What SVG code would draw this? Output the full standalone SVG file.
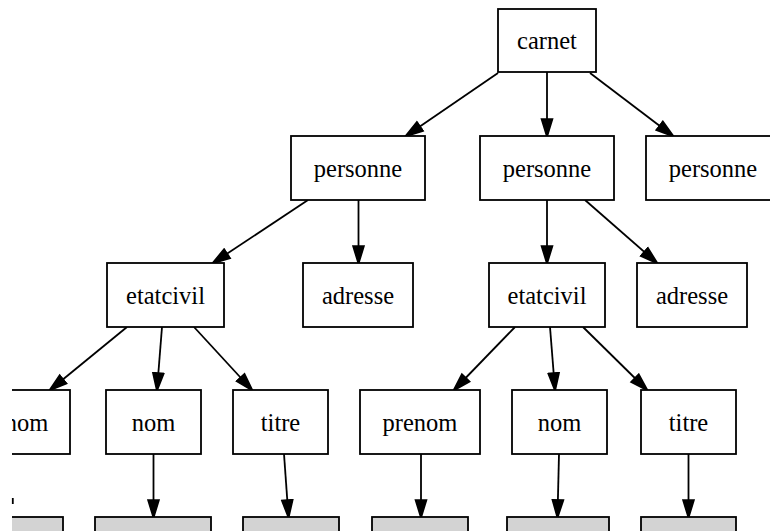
<svg xmlns="http://www.w3.org/2000/svg" width="770" height="531" viewBox="0 0 770 531">
<style>
.n rect{fill:#ffffff;stroke:#000000;stroke-width:1.8}
.g rect{fill:#d3d3d3;stroke:#000000;stroke-width:1.8}
text{font-family:"Liberation Serif","Times New Roman",serif;font-size:24.5px;fill:#000000;text-anchor:middle}
#edges line{stroke:#000000;stroke-width:1.8;fill:none}
</style>
<defs>
<marker id="ah" markerUnits="userSpaceOnUse" markerWidth="20" markerHeight="14" viewBox="-1 -1 20 14" refX="17" refY="6" orient="auto">
<path d="M0,0.5 L18,6 L0,11.5 Z" fill="#000000" stroke="#000000" stroke-width="1.6" stroke-linejoin="miter"/>
</marker>
<clipPath id="lc"><rect x="12" y="0" width="758" height="531"/></clipPath>
</defs>
<rect x="0" y="0" width="770" height="531" fill="#ffffff"/>
<g id="edges">
<line x1="498" y1="73" x2="406" y2="136" marker-end="url(#ah)"/>
<line x1="547" y1="72" x2="547" y2="136" marker-end="url(#ah)"/>
<line x1="590" y1="73" x2="673" y2="136" marker-end="url(#ah)"/>
<line x1="308" y1="200" x2="213" y2="263" marker-end="url(#ah)"/>
<line x1="358.5" y1="200" x2="358.5" y2="263" marker-end="url(#ah)"/>
<line x1="547" y1="200" x2="547" y2="263" marker-end="url(#ah)"/>
<line x1="585" y1="200" x2="657" y2="263" marker-end="url(#ah)"/>
<line x1="127" y1="327" x2="50" y2="390" marker-end="url(#ah)"/>
<line x1="162" y1="327" x2="157" y2="390" marker-end="url(#ah)"/>
<line x1="194" y1="327" x2="252" y2="390" marker-end="url(#ah)"/>
<line x1="515" y1="327" x2="454" y2="390" marker-end="url(#ah)"/>
<line x1="550" y1="327" x2="555" y2="390" marker-end="url(#ah)"/>
<line x1="583" y1="327" x2="647" y2="390" marker-end="url(#ah)"/>
<line x1="153.5" y1="454" x2="153.5" y2="517" marker-end="url(#ah)"/>
<line x1="284" y1="454" x2="288.5" y2="517" marker-end="url(#ah)"/>
<line x1="421" y1="454" x2="421" y2="517" marker-end="url(#ah)"/>
<line x1="559" y1="454" x2="557.5" y2="517" marker-end="url(#ah)"/>
<line x1="688.5" y1="454" x2="688.5" y2="517" marker-end="url(#ah)"/>
<line x1="12.8" y1="498" x2="12.8" y2="504"/>
</g>
<g id="carnet" class="n"><rect x="498" y="9" width="98" height="63"/><text x="547" y="49">carnet</text></g>
<g id="personne1" class="n"><rect x="291" y="136" width="134" height="64"/><text x="358" y="176.5">personne</text></g>
<g id="personne2" class="n"><rect x="480" y="136" width="134" height="64"/><text x="547" y="176.5">personne</text></g>
<g id="personne3" class="n"><rect x="646" y="136" width="134" height="64"/><text x="713" y="176.5">personne</text></g>
<g id="etatcivil1" class="n"><rect x="107" y="263" width="117" height="64"/><text x="165.5" y="303.5">etatcivil</text></g>
<g id="adresse1" class="n"><rect x="303" y="263" width="110" height="64"/><text x="358" y="303.5">adresse</text></g>
<g id="etatcivil2" class="n"><rect x="489" y="263" width="116" height="64"/><text x="547" y="303.5">etatcivil</text></g>
<g id="adresse2" class="n"><rect x="637" y="263" width="110" height="64"/><text x="692" y="303.5">adresse</text></g>
<g id="nom1" class="n" clip-path="url(#lc)"><rect x="-17" y="390" width="87" height="64"/><text x="26.5" y="430.5">nom</text></g>
<g id="nom2" class="n"><rect x="106" y="390" width="95" height="64"/><text x="153.5" y="430.5">nom</text></g>
<g id="titre1" class="n"><rect x="233" y="390" width="95" height="64"/><text x="280.5" y="430.5">titre</text></g>
<g id="prenom" class="n"><rect x="360" y="390" width="120" height="64"/><text x="420" y="430.5">prenom</text></g>
<g id="nom3" class="n"><rect x="512" y="390" width="95" height="64"/><text x="559.5" y="430.5">nom</text></g>
<g id="titre2" class="n"><rect x="641" y="390" width="95" height="64"/><text x="688.5" y="430.5">titre</text></g>
<g id="val1" class="g" clip-path="url(#lc)"><rect x="-30" y="517" width="93" height="40"/></g>
<g id="val2" class="g"><rect x="95" y="517" width="116" height="40"/></g>
<g id="val3" class="g"><rect x="243" y="517" width="96" height="40"/></g>
<g id="val4" class="g"><rect x="372" y="517" width="96" height="40"/></g>
<g id="val5" class="g"><rect x="507" y="517" width="102" height="40"/></g>
<g id="val6" class="g"><rect x="641" y="517" width="95" height="40"/></g>
</svg>
